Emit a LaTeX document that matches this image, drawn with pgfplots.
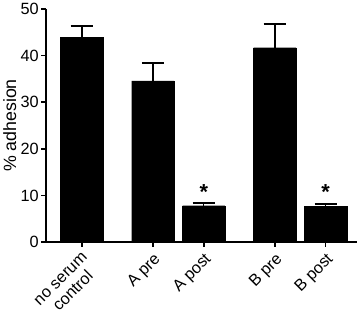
\documentclass[border=0pt]{standalone}
\usepackage{fontspec}
\setmainfont{Liberation Sans}
\usepackage{pgfplots}
\pgfplotsset{compat=1.18}
\begin{document}
\begin{tikzpicture}
\begin{axis}[
  scale only axis,
  width=315pt, height=236pt,
  xmin=-0.70, xmax=5.42,
  ymin=0, ymax=50,
  axis x line*=bottom, axis y line*=left,
  axis line style={line width=1.6pt},
  ytick={0,10,...,50},
  xtick={0,1.4,2.4,3.8,4.8},
  xticklabels={{no serum\\control},A pre,A post,B pre,B post},
  xticklabel style={rotate=45, anchor=north east, align=center, font=\fontsize{16.5}{18}\selectfont},
  yticklabel style={font=\fontsize{16.5}{18}\selectfont, xshift=1pt},
  tick style={line width=1.6pt, black},
  tick align=outside,
  major tick length=5pt,
  ylabel={\% adhesion},
  ylabel style={font=\fontsize{18}{19}\selectfont, yshift=-2.5pt},
  /pgf/number format/assume math mode=true,
  clip=false,
]
\addplot[ybar, bar width=43pt, bar shift=0pt, fill=black, draw=black,
  error bars/.cd, y dir=plus, y explicit,
  error bar style={line width=1.5pt, black},
  error mark options={rotate=90, mark size=11.3pt, line width=1.5pt, black}]
coordinates {
  (0,44.0) +- (0,2.4)
  (1.4,34.6) +- (0,3.8)
  (2.4,7.8) +- (0,0.6)
  (3.8,41.7) +- (0,5.1)
  (4.8,7.6) +- (0,0.6)
};
\node[anchor=center, font=\bfseries\fontsize{22}{22}\selectfont, inner sep=0pt] at (axis cs:2.4,10.8) {*};
\node[anchor=center, font=\bfseries\fontsize{22}{22}\selectfont, inner sep=0pt] at (axis cs:4.8,10.8) {*};
\end{axis}
\end{tikzpicture}
\end{document}
